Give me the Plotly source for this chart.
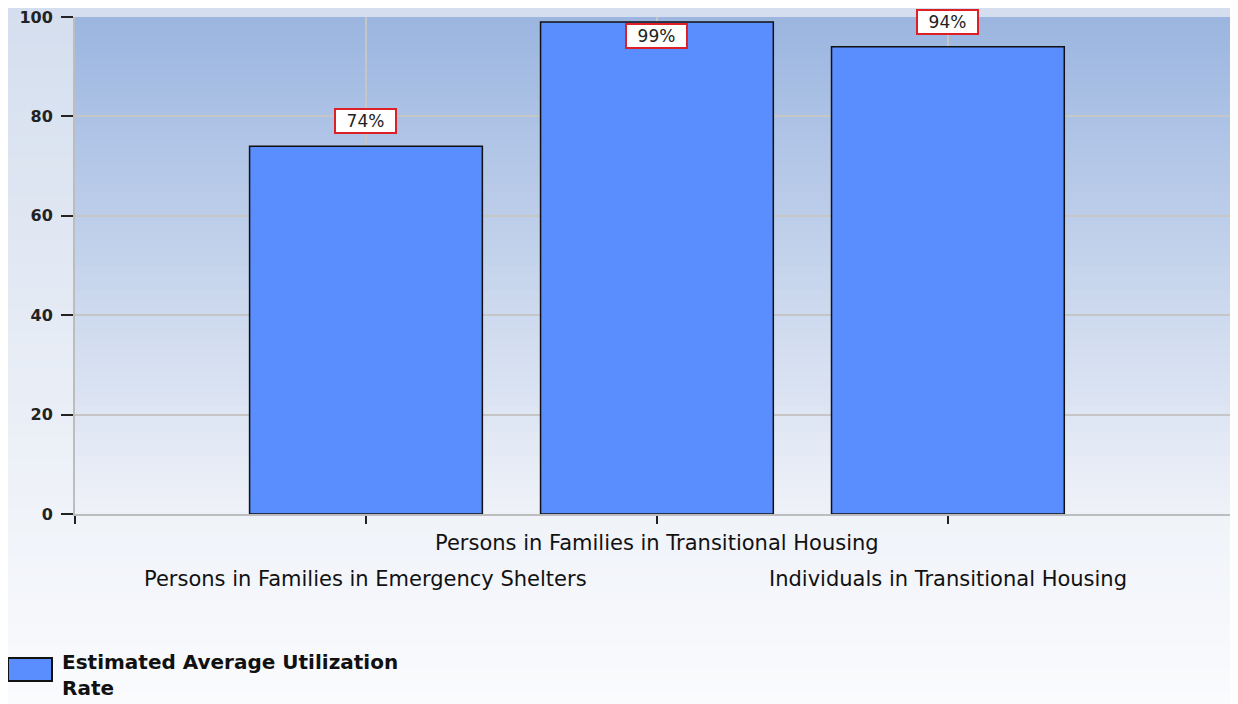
import plotly.graph_objects as go

# ---------------- data ----------------
categories = [
    "Persons in Families in Emergency Shelters",
    "Persons in Families in Transitional Housing",
    "Individuals in Transitional Housing",
]
utilization = [74, 99, 94]
value_labels = ["74%", "99%", "94%"]
series_name = "Estimated Average Utilization Rate"
y_ticks = [0, 20, 40, 60, 80, 100]

# ---------------- layout geometry ----------------
# page body adds an 8px offset, so the figure is 8px smaller
W, H = 1230, 696
L, R, T, B = 67, 0, 9, 190
PW, PH = W - L - R, H - T - B
FONT = "Tahoma, Verdana, DejaVu Sans, sans-serif"
BAR_COLOR = "#5A8EFF"


def lerp(c1, c2, t):
    return "rgb(%d,%d,%d)" % tuple(round(a + (b - a) * t) for a, b in zip(c1, c2))


shapes = []
N = 60
# outer page gradient
outer_top, outer_bot = (0xD4, 0xDE, 0xEE), (0xFA, 0xFB, 0xFD)
y_hi, y_lo = 1 + T / PH, -B / PH
for i in range(N):
    a = y_hi - (y_hi - y_lo) * i / N
    b = y_hi - (y_hi - y_lo) * (i + 1) / N
    shapes.append(dict(type="rect", xref="paper", yref="paper",
                       x0=-L / PW - 0.01, x1=1.01, y0=b - 0.003, y1=a + 0.01 * (i == 0),
                       fillcolor=lerp(outer_top, outer_bot, (i + 0.5) / N),
                       line_width=0, layer="below"))
# plot area gradient
plot_top, plot_bot = (0x9B, 0xB5, 0xE0), (0xEF, 0xF2, 0xF8)
for i in range(N):
    a = 1 - i / N
    b = 1 - (i + 1) / N
    shapes.append(dict(type="rect", xref="paper", yref="paper",
                       x0=0, x1=1, y0=max(b - 0.003, 0), y1=a,
                       fillcolor=lerp(plot_top, plot_bot, (i + 0.5) / N),
                       line_width=0, layer="below"))

# legend swatch (manual, to match the wide rectangle)
shapes.append(dict(type="rect", xref="paper", yref="paper",
                   x0=(0 - L) / PW, x1=(44 - L) / PW,
                   y0=1 - (673 - T) / PH, y1=1 - (650 - T) / PH,
                   fillcolor=BAR_COLOR, line=dict(color="#111111", width=2)))

xs = list(range(len(categories)))

fig = go.Figure()
fig.add_trace(go.Bar(
    x=xs, y=utilization, width=0.8, name=series_name,
    marker=dict(color=BAR_COLOR, line=dict(color="#111111", width=1.5)),
    showlegend=False, hoverinfo="y",
))

annotations = []
# value labels
for x, v, lab in zip(xs, utilization, value_labels):
    inside = v > 96
    annotations.append(dict(
        x=x, y=v, xref="x", yref="y", text=lab, showarrow=False,
        yanchor="top" if inside else "bottom",
        yshift=-1 if inside else 12,
        font=dict(family=FONT, size=17, color="#222222"),
        bgcolor="white", bordercolor="#DD1F26", borderwidth=2, borderpad=1,
        width=57,
    ))
# category labels (staggered)
for x, cat in zip(xs, categories):
    annotations.append(dict(
        x=x, y=0, xref="x", yref="paper", text=cat, showarrow=False,
        yanchor="middle", yshift=-29 if x % 2 == 1 else -65,
        font=dict(family=FONT, size=21, color="#111111"),
    ))
# legend text
annotations.append(dict(
    x=(52 - L) / PW, y=1 - (640 - T) / PH, xref="paper", yref="paper",
    xanchor="left", yanchor="top", align="left", showarrow=False,
    text="Estimated Average Utilization<br>Rate",
    font=dict(family=FONT, size=20, color="#111111", weight="bold"),
))

fig.update_layout(
    width=W, height=H,
    margin=dict(l=L, r=R, t=T, b=B, autoexpand=False),
    paper_bgcolor="#F4F6FA", plot_bgcolor="rgba(0,0,0,0)",
    shapes=shapes, annotations=annotations,
    showlegend=False, bargap=0.2,
)
fig.update_xaxes(
    range=[-1, 2.997], tickvals=[-1] + xs, showticklabels=False,
    ticks="outside", ticklen=8, tickwidth=2, tickcolor="#222222",
    showgrid=True, gridcolor="#C6C6C6", gridwidth=1.5,
    showline=True, linecolor="#BDBDBD", linewidth=2, zeroline=False,
)
fig.update_yaxes(
    range=[0, 100], tickvals=y_ticks, ticktext=[str(v) for v in y_ticks],
    tickmode="array", ticklabeloverflow="allow", ticklabelstandoff=5,
    ticks="outside", ticklen=12, tickwidth=2, tickcolor="#222222",
    tickfont=dict(family=FONT, size=16, color="#222222", weight="bold"),
    showgrid=True, gridcolor="#C6C6C6", gridwidth=1.5,
    showline=True, linecolor="#BDBDBD", linewidth=2, zeroline=False,
)

fig.write_html("out.html")
